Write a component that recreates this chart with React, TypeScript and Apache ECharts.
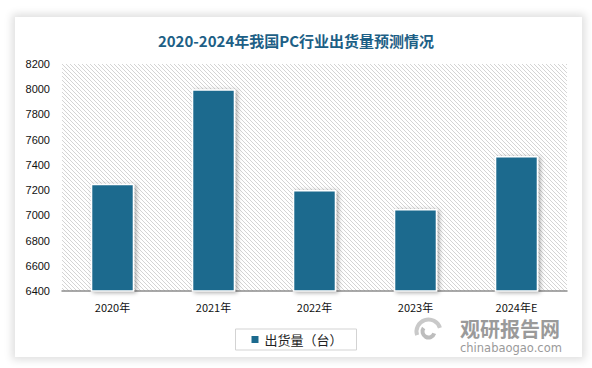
import React, { useEffect, useRef } from "react";
import * as echarts from "echarts";

const categories = ["2020年", "2021年", "2022年", "2023年", "2024年E"];
const shipments = [7250, 8000, 7200, 7050, 7470];
const seriesName = "出货量（台）";
const titleText = "2020-2024年我国PC行业出货量预测情况";

const GRID = { left: 62, right: 25, top: 64, bottom: 77 };

const stripeTile =
  "data:image/svg+xml," +
  encodeURIComponent(
    "<svg xmlns='http://www.w3.org/2000/svg' width='4' height='4' shape-rendering='crispEdges'>" +
      "<rect width='4' height='4' fill='#ffffff'/>" +
      "<rect x='0' y='0' width='1' height='1' fill='#d4d4d4'/>" +
      "<rect x='1' y='1' width='1' height='1' fill='#d4d4d4'/>" +
      "<rect x='2' y='2' width='1' height='1' fill='#d4d4d4'/>" +
      "<rect x='3' y='3' width='1' height='1' fill='#d4d4d4'/>" +
      "</svg>"
  );

export default function App() {
  const ref = useRef<HTMLDivElement>(null);
  useEffect(() => {
    document.body.style.margin = "0";
    const chart = echarts.init(ref.current!, null, { renderer: "svg" });
    chart.setOption({
      animation: false,
      backgroundColor: "transparent",
      title: {
        text: titleText,
        left: "center",
        top: 28,
        textStyle: {
          fontSize: 15,
          fontWeight: "bold",
          color: "#1d5f86",
          fontFamily: "Noto Sans CJK SC, sans-serif",
        },
      },
      grid: GRID,
      legend: {
        data: [seriesName],
        bottom: 18,
        left: "center",
        icon: "rect",
        itemWidth: 9,
        itemHeight: 9,
        itemGap: 6,
        borderColor: "#d3d3d3",
        borderWidth: 1,
        padding: [4, 14, 4, 14],
        textStyle: { fontSize: 13, color: "#222", fontFamily: "Noto Sans CJK SC, sans-serif" },
      },
      xAxis: {
        type: "category",
        data: categories,
        axisLine: { lineStyle: { color: "#8c8c8c", width: 1.5 } },
        axisTick: { show: false },
        axisLabel: { fontSize: 11, color: "#111", margin: 10, fontFamily: "Noto Sans CJK SC, sans-serif" },
      },
      yAxis: {
        type: "value",
        min: 6400,
        max: 8200,
        interval: 200,
        axisLine: { show: false },
        axisTick: { show: false },
        splitLine: { show: false },
        axisLabel: {
          fontSize: 11,
          color: "#111",
          margin: 12,
          fontFamily: "Liberation Sans, sans-serif",
          formatter: (v: number) => String(v),
        },
      },
      graphic: [
        {
          type: "group",
          left: 414,
          top: 317,
          children: [
            { type: "arc", shape: { cx: 14, cy: 15, r: 12, startAngle: Math.PI * 0.9, endAngle: Math.PI * 1.9 }, style: { stroke: "#c9c9c9", lineWidth: 4, fill: "none" } },
            { type: "arc", shape: { cx: 14, cy: 15, r: 6, startAngle: Math.PI * 0.1, endAngle: Math.PI * 1.2 }, style: { stroke: "#bdbdbd", lineWidth: 4, fill: "none" } },
          ],
          z: 10,
        },
        {
          type: "text",
          left: 460,
          top: 318,
          style: { text: "观研报告网", fontSize: 20, fontWeight: "bold", fill: "#9a9a9a", fontFamily: "Noto Sans CJK SC, sans-serif" },
          z: 10,
        },
        {
          type: "text",
          left: 460,
          top: 342,
          style: { text: "chinabaogao.com", fontSize: 11.5, fill: "#9a9a9a", fontFamily: "DejaVu Sans, sans-serif" },
          z: 10,
        },
      ],
      series: [
        {
          name: seriesName,
          type: "bar",
          data: shipments,
          barWidth: "43%",
          itemStyle: {
            color: "#1c6a8e",
            borderColor: "#ffffff",
            borderWidth: 1.5,
            shadowBlur: 4,
            shadowColor: "rgba(0,0,0,0.35)",
            shadowOffsetX: 2,
            shadowOffsetY: 1,
          },
        },
      ],
    });
    return () => chart.dispose();
  }, []);

  return (
    <div style={{ position: "relative", width: 592, height: 368, background: "#fff", overflow: "hidden" }}>
      <div
        style={{
          position: "absolute",
          left: 15,
          top: 17,
          width: 567,
          height: 340,
          background: "#fff",
          boxShadow: "0 0 8px 3px rgba(0,0,0,0.13)",
        }}
      />
      <div
        style={{
          position: "absolute",
          left: GRID.left,
          top: GRID.top,
          width: 592 - GRID.left - GRID.right,
          height: 368 - GRID.top - GRID.bottom,
          backgroundImage: `url("${stripeTile}")`,
          backgroundRepeat: "repeat",
          backgroundSize: "4px 4px",
        }}
      />
      <div ref={ref} style={{ position: "absolute", left: 0, top: 0, width: 592, height: 368 }} />
    </div>
  );
}
